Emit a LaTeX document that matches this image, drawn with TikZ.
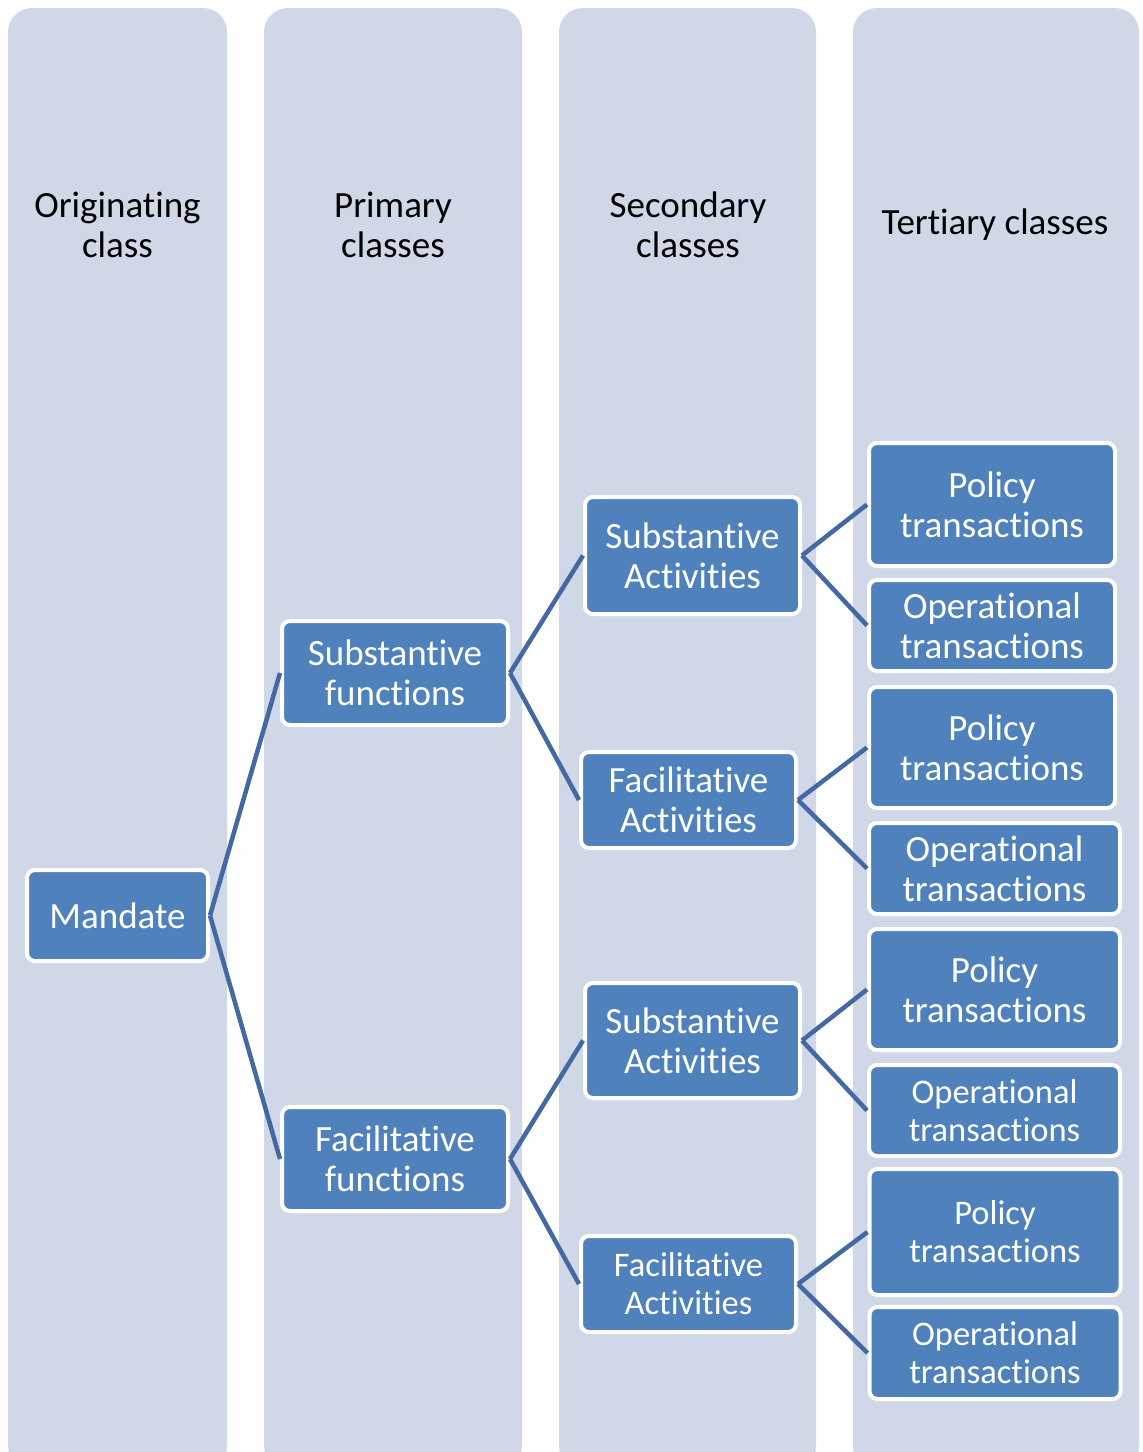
\documentclass[tikz,border=0pt]{standalone}
\usepackage{fontspec}
\setmainfont{Carlito}[Ligatures=NoCommon, RawFeature=-liga, RawFeature=-clig, RawFeature=-calt]
\definecolor{lane}{RGB}{208,216,232}
\definecolor{boxblue}{RGB}{79,129,189}
\definecolor{linkblue}{RGB}{66,105,162}
\tikzset{
  lanebox/.style={fill=lane, draw=none, rounded corners=24pt},
  lanehead/.style={align=center, text=black, font=\fontsize{37}{40}\selectfont},
  classbox/.style={draw=white, line width=4pt, fill=boxblue, rounded corners=8pt,
    text=white, align=center, inner sep=0pt, font=\fontsize{37}{40}\selectfont},
  smalltext/.style={font=\fontsize{34.5}{38}\selectfont},
  link/.style={draw=linkblue, line width=4.5pt},
}
\begin{document}
\begin{tikzpicture}[x=1pt, y=-1pt]
\useasboundingbox (0,0) rectangle (1143,1452);

% four lanes
\fill[lanebox] (8,8) rectangle (227,1470);
\fill[lanebox] (264,8) rectangle (522,1470);
\fill[lanebox] (559,8) rectangle (816,1470);
\fill[lanebox] (853,8) rectangle (1139,1470);
\fill[white] (0,1452) rectangle (1143,1480);

% lane headings
\node[lanehead] (h1) at (117.5,225) {Originating\\class};
\node[lanehead] (h2) at (393,225) {Primary\\classes};
\node[lanehead] (h3) at (688,225) {Secondary\\classes};
\node[lanehead] (h4) at (995,225) {Tertiary classes};

% originating class
\node[classbox, minimum width=181pt, minimum height=91pt] (mandate) at (117.5,915.5) {Mandate};

% primary classes
\node[classbox, minimum width=226pt, minimum height=104pt] (subfun) at (395,673) {Substantive\\functions};
\node[classbox, minimum width=226pt, minimum height=104pt] (facfun) at (395,1159) {Facilitative\\functions};

% secondary classes
\node[classbox, minimum width=215pt, minimum height=117pt] (sa1) at (692.5,555.5) {Substantive\\Activities};
\node[classbox, minimum width=215pt, minimum height=96pt] (fa1) at (688.5,800) {Facilitative\\Activities};
\node[classbox, minimum width=215pt, minimum height=115pt] (sa2) at (692.5,1040.5) {Substantive\\Activities};
\node[classbox, smalltext, minimum width=215pt, minimum height=96pt] (fa2) at (688.5,1284) {Facilitative\\Activities};

% tertiary classes
\node[classbox, minimum width=246pt, minimum height=123pt] (p1) at (992,504.5) {Policy\\transactions};
\node[classbox, minimum width=246pt, minimum height=91pt] (o1) at (992,625.5) {Operational\\transactions};
\node[classbox, minimum width=246pt, minimum height=121pt] (p2) at (992,747.5) {Policy\\transactions};
\node[classbox, minimum width=251pt, minimum height=91pt] (o2) at (994.5,868.5) {Operational\\transactions};
\node[classbox, minimum width=251pt, minimum height=121pt] (p3) at (994.5,989.5) {Policy\\transactions};
\node[classbox, smalltext, minimum width=251pt, minimum height=91pt] (o3) at (994.5,1110.5) {Operational\\transactions};
\node[classbox, smalltext, minimum width=251pt, minimum height=126pt] (p4) at (995,1232) {Policy\\transactions};
\node[classbox, smalltext, minimum width=251pt, minimum height=92pt] (o4) at (995,1353) {Operational\\transactions};

% connectors
\draw[link] (mandate.east) -- (subfun.west);
\draw[link] (mandate.east) -- (facfun.west);
\draw[link] (subfun.east) -- (sa1.west);
\draw[link] (subfun.east) -- (fa1.west);
\draw[link] (facfun.east) -- (sa2.west);
\draw[link] (facfun.east) -- (fa2.west);
\draw[link] (sa1.east) -- (p1.west);
\draw[link] (sa1.east) -- (o1.west);
\draw[link] (fa1.east) -- (p2.west);
\draw[link] (fa1.east) -- (o2.west);
\draw[link] (sa2.east) -- (p3.west);
\draw[link] (sa2.east) -- (o3.west);
\draw[link] (fa2.east) -- (p4.west);
\draw[link] (fa2.east) -- (o4.west);
\end{tikzpicture}
\end{document}
